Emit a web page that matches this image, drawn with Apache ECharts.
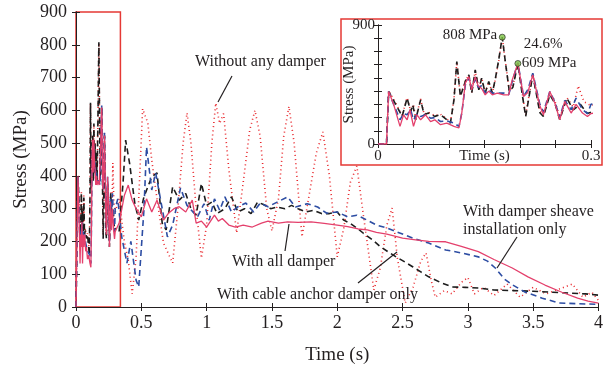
<!DOCTYPE html>
<html>
<head>
<meta charset="utf-8">
<script src="https://cdn.jsdelivr.net/npm/echarts@6/dist/echarts.min.js"></script>
<style>
html, body { margin: 0; padding: 0; background: #fff; }
#chart { width: 606px; height: 370px; }
</style>
</head>
<body>
<div id="chart"></div>
<script>
// time (s) and stress (MPa), one pair of arrays per case
var tAll = [0, 0.012, 0.015, 0.022, 0.031, 0.036, 0.041, 0.045, 0.05, 0.055, 0.06, 0.067, 0.074, 0.08, 0.088, 0.097, 0.107, 0.114, 0.118, 0.123, 0.128, 0.132, 0.137, 0.141, 0.146, 0.151, 0.156, 0.161, 0.168, 0.177, 0.184, 0.189, 0.197, 0.205, 0.211, 0.218, 0.228, 0.233, 0.242, 0.249, 0.256, 0.263, 0.272, 0.279, 0.288, 0.295, 0.3,
    0.33, 0.37, 0.4, 0.43, 0.46, 0.5, 0.54, 0.58, 0.62, 0.67, 0.71, 0.75, 0.79, 0.84, 0.89, 0.92, 0.96, 1.0, 1.06, 1.09, 1.12, 1.17, 1.22, 1.28, 1.35, 1.42, 1.47, 1.55, 1.62, 1.7, 1.8, 1.9, 2.0, 2.08, 2.16, 2.23, 2.3, 2.38, 2.5, 2.6, 2.7, 2.83, 2.95, 3.08, 3.2, 3.34, 3.46, 3.59, 3.72, 3.84, 3.92, 4.0];
var vAll = [0, 0, 397, 300, 133, 221, 183, 259, 133, 221, 183, 221, 170, 183, 146, 158, 133, 121, 234, 460, 510, 410, 510, 440, 420, 372, 400, 372, 385, 372, 372, 485, 609, 359, 390, 523, 290, 221, 397, 310, 183, 322, 234, 300, 234, 208, 230,
    256, 340, 372, 326, 300, 275, 330, 290, 326, 265, 287, 300, 306, 290, 326, 256, 262, 244, 280, 262, 270, 250, 244, 250, 244, 256, 262, 256, 260, 258, 260, 255, 250, 245, 238, 235, 228, 222, 210, 205, 200, 199, 185, 169, 145, 119, 92, 67, 45, 27, 18, 12];

var tCable = [0, 0.012, 0.015, 0.024, 0.034, 0.041, 0.046, 0.049, 0.053, 0.06, 0.065, 0.071, 0.08, 0.088, 0.097, 0.102, 0.107, 0.111, 0.116, 0.123, 0.128, 0.132, 0.137, 0.142, 0.146, 0.151, 0.156, 0.161, 0.165, 0.17, 0.175, 0.179, 0.185, 0.19, 0.197, 0.203, 0.208, 0.218, 0.228, 0.233, 0.242, 0.249, 0.256, 0.266, 0.275, 0.285, 0.295, 0.3,
    0.33, 0.36, 0.38, 0.41, 0.45, 0.48, 0.52, 0.58, 0.62, 0.66, 0.69, 0.74, 0.79, 0.84, 0.88, 0.92, 0.96, 1.0, 1.04, 1.08, 1.14, 1.19, 1.24, 1.29, 1.34, 1.39, 1.44, 1.49, 1.54, 1.6, 1.65, 1.7, 1.76, 1.82, 1.88, 1.94, 2.0, 2.05, 2.1, 2.15, 2.2, 2.27, 2.33, 2.39, 2.45, 2.52, 2.58, 2.64, 2.7, 2.79, 2.88, 2.98, 3.08, 3.2, 3.35, 3.5, 3.65, 3.8, 3.9, 4.0];
var vCable = [0, 0, 397, 309, 209, 347, 246, 297, 183, 334, 221, 234, 209, 221, 183, 158, 334, 623, 360, 473, 523, 385, 560, 410, 498, 385, 473, 385, 485, 636, 808, 636, 397, 430, 609, 380, 208, 523, 236, 208, 372, 310, 183, 347, 259, 300, 230, 240,
    230, 378, 509, 439, 317, 265, 336, 397, 409, 256, 235, 367, 326, 346, 300, 280, 377, 310, 320, 285, 300, 336, 290, 300, 285, 320, 312, 300, 305, 300, 310, 300, 290, 295, 285, 285, 290, 265, 255, 241, 225, 205, 184, 168, 153, 137, 122, 107, 92, 75, 61, 60, 58, 52, 50, 48, 45, 42, 40, 36];

var tSheave = [0, 0.012, 0.015, 0.022, 0.031, 0.036, 0.041, 0.046, 0.05, 0.056, 0.06, 0.067, 0.074, 0.08, 0.088, 0.097, 0.107, 0.114, 0.118, 0.123, 0.128, 0.132, 0.137, 0.141, 0.146, 0.151, 0.156, 0.161, 0.168, 0.177, 0.184, 0.189, 0.197, 0.205, 0.211, 0.218, 0.228, 0.233, 0.242, 0.249, 0.256, 0.263, 0.272, 0.279, 0.288, 0.295, 0.3,
    0.32, 0.35, 0.39, 0.42, 0.46, 0.48, 0.52, 0.54, 0.58, 0.61, 0.66, 0.7, 0.74, 0.8, 0.85, 0.93, 0.98, 1.02, 1.06, 1.1, 1.14, 1.19, 1.24, 1.3, 1.36, 1.41, 1.47, 1.54, 1.62, 1.68, 1.77, 1.85, 1.92, 2.0, 2.08, 2.15, 2.23, 2.3, 2.38, 2.45, 2.58, 2.7, 2.83, 2.95, 3.08, 3.15, 3.21, 3.28, 3.34, 3.44, 3.57, 3.7, 3.85, 4.0];
var vSheave = [0, 0, 397, 300, 183, 230, 221, 259, 183, 230, 208, 221, 195, 200, 170, 175, 158, 133, 234, 447, 500, 420, 490, 430, 440, 385, 410, 385, 385, 385, 372, 470, 615, 360, 410, 535, 300, 240, 397, 320, 200, 330, 260, 347, 260, 230, 300,
    330, 214, 134, 200, 82, 61, 296, 488, 357, 409, 300, 214, 250, 363, 310, 275, 315, 265, 330, 295, 336, 290, 306, 317, 290, 317, 306, 320, 336, 305, 315, 305, 286, 290, 275, 280, 265, 250, 241, 230, 210, 195, 174, 165, 153, 140, 119, 85, 68, 45, 27, 12, 10, 8];

var tNone = [0, 0.012, 0.015, 0.024, 0.034, 0.041, 0.046, 0.05, 0.053, 0.06, 0.065, 0.071, 0.08, 0.088, 0.097, 0.102, 0.107, 0.111, 0.116, 0.123, 0.128, 0.132, 0.137, 0.142, 0.146, 0.151, 0.156, 0.161, 0.165, 0.17, 0.175, 0.179, 0.185, 0.19, 0.197, 0.203, 0.208, 0.218, 0.228, 0.233, 0.242, 0.249, 0.256, 0.266, 0.275, 0.282, 0.29, 0.3,
    0.33, 0.37, 0.4, 0.43, 0.46, 0.49, 0.51, 0.55, 0.58, 0.62, 0.67, 0.71, 0.74, 0.78, 0.82, 0.85, 0.88, 0.92, 0.96, 1.0, 1.04, 1.07, 1.1, 1.13, 1.17, 1.23, 1.28, 1.33, 1.37, 1.41, 1.46, 1.5, 1.55, 1.59, 1.63, 1.67, 1.73, 1.78, 1.84, 1.89, 1.94, 2.0, 2.05, 2.1, 2.15, 2.2, 2.28, 2.33, 2.38, 2.42, 2.46, 2.52, 2.58, 2.64, 2.68, 2.72, 2.75, 2.82, 2.88, 2.95, 3.0, 3.05, 3.12, 3.2, 3.3, 3.4, 3.5, 3.6, 3.7, 3.8, 3.88, 3.95, 4.0];
var vNone = [0, 0, 400, 320, 215, 350, 250, 300, 190, 340, 225, 240, 215, 225, 190, 165, 340, 620, 365, 480, 520, 390, 555, 415, 500, 390, 470, 390, 480, 630, 805, 640, 400, 440, 610, 390, 220, 530, 250, 215, 380, 330, 200, 350, 280, 440, 320, 290,
    330, 200, 143, 40, 150, 420, 605, 561, 448, 330, 195, 160, 134, 300, 500, 592, 500, 300, 149, 250, 500, 622, 560, 590, 420, 226, 380, 540, 600, 520, 300, 232, 330, 520, 612, 500, 214, 330, 470, 534, 400, 153, 240, 380, 430, 280, 52, 120, 250, 302, 150, 12, 60, 140, 165, 80, 30, 50, 40, 75, 90, 40, 60, 35, 70, 30, 60, 40, 55, 70, 30, 45, 20];

// points marked in the inset
var peakTimes = [0.175, 0.197];
var peakValues = [808, 609];
var peakLabels = ['808 MPa', '609 MPa'];

function pairs(t, v) {
    var out = [];
    for (var i = 0; i < t.length; i++) out.push([t[i], v[i]]);
    return out;
}

var serif = '"Liberation Serif", "DejaVu Serif", serif';
var ink = '#231f20';

var chart = echarts.init(document.getElementById('chart'));

function axisX(grid, pos, max, interval, showLabel, name, z, labelSize) {
    return {
        type: 'value', gridIndex: grid, position: pos, min: 0, max: max, interval: interval, z: z,
        name: name, nameLocation: 'middle', nameMoveOverlap: false,
        nameTextStyle: { fontFamily: serif, fontSize: labelSize + 1, color: ink },
        axisLine: { show: true, lineStyle: { color: ink, width: 1 } },
        axisTick: { show: true, inside: true, length: 4, lineStyle: { color: ink } },
        axisLabel: { show: showLabel, fontFamily: serif, fontSize: labelSize, color: ink },
        splitLine: { show: false }
    };
}
function axisY(grid, pos, showLabel, name, z, labelSize) {
    return {
        type: 'value', gridIndex: grid, position: pos, min: 0, max: 900, interval: 100, z: z,
        name: name, nameLocation: 'middle', nameMoveOverlap: false,
        nameTextStyle: { fontFamily: serif, fontSize: labelSize + 1, color: ink },
        axisLine: { show: true, lineStyle: { color: ink, width: 1 } },
        axisTick: { show: true, inside: true, length: 4, lineStyle: { color: ink } },
        axisLabel: { show: showLabel, fontFamily: serif, fontSize: labelSize, color: ink },
        splitLine: { show: false }
    };
}

var xMain = axisX(0, 'bottom', 4, 0.5, true, 'Time (s)', 1, 18);
xMain.nameGap = 39; xMain.axisLabel.margin = 7;
var yMain = axisY(0, 'left', true, 'Stress (MPa)', 1, 18);
yMain.nameGap = 45; yMain.axisLabel.margin = 9;

var xIn = axisX(1, 'bottom', 0.3, 0.05, true, 'Time (s)', 61, 15);
xIn.nameGap = 5; xIn.nameTextStyle.fontSize = 15; xIn.axisLabel.margin = 5;
xIn.axisLabel.formatter = function (v) {
    if (v === 0) return '0';
    if (Math.abs(v - 0.3) < 1e-6) return '0.3';
    return '';
};
var yIn = axisY(1, 'left', true, 'Stress (MPa)', 61, 15);
yIn.nameGap = 21; yIn.nameTextStyle.fontSize = 15; yIn.axisLabel.margin = 3;
yIn.axisLabel.formatter = function (v) { return (v === 0 || v === 900) ? String(v) : ''; };

var styles = {
    none: { color: '#e8262b', width: 1.6, type: [1, 3.2] },
    cable: { color: '#1d1d1d', width: 1.6, type: [6, 4] },
    sheave: { color: '#2d4da3', width: 1.6, type: [6, 4] },
    all: { color: '#e4406c', width: 1.3, type: 'solid' }
};

function lineSeries(key, t, v, xi, yi, z) {
    return {
        type: 'line', xAxisIndex: xi, yAxisIndex: yi, data: pairs(t, v),
        showSymbol: false, symbol: 'none', z: z, silent: true, animation: false,
        lineStyle: styles[key]
    };
}

var series = [
    lineSeries('none', tNone, vNone, 0, 0, 2),
    lineSeries('cable', tCable, vCable, 0, 0, 3),
    lineSeries('sheave', tSheave, vSheave, 0, 0, 4),
    lineSeries('all', tAll, vAll, 0, 0, 5),
    lineSeries('none', tNone, vNone, 2, 2, 62),
    lineSeries('cable', tCable, vCable, 2, 2, 63),
    lineSeries('sheave', tSheave, vSheave, 2, 2, 64),
    lineSeries('all', tAll, vAll, 2, 2, 65)
];

// red frame of the zoomed window on the main chart
series[3].markArea = {
    silent: true,
    itemStyle: { color: 'rgba(0,0,0,0)', borderColor: '#e53935', borderWidth: 1.5 },
    data: [[{ coord: [0, 0] }, { coord: [0.34, 900] }]]
};

// inset: the two peaks and the lines joining them
series.push({
    type: 'scatter', xAxisIndex: 2, yAxisIndex: 2, z: 70, animation: false, silent: true,
    data: pairs(peakTimes, peakValues),
    symbolSize: 6,
    itemStyle: { color: '#7cc242', borderColor: '#1d1d1d', borderWidth: 0.8 },
    markLine: {
        silent: true, animation: false,
        lineStyle: { color: ink, width: 1, type: 'solid' },
        label: { show: false },
        data: [
            [{ coord: [peakTimes[0], peakValues[0]], symbol: 'none' }, { coord: [0.203, peakValues[0]], symbol: 'none' }],
            [{ coord: [peakTimes[1], peakValues[1]], symbol: 'none' }, { coord: [peakTimes[1], peakValues[0]], symbol: 'arrow', symbolSize: [6, 7] }]
        ]
    }
});

var txt = function (x, y, s, size, align) {
    return {
        type: 'text', x: x, y: y, z: 100,
        style: { text: s, fontFamily: serif, fontSize: size || 16, fill: ink, align: align || 'left', verticalAlign: 'middle' }
    };
};
var ln = function (x1, y1, x2, y2) {
    return { type: 'line', z: 100, shape: { x1: x1, y1: y1, x2: x2, y2: y2 }, style: { stroke: ink, lineWidth: 1.2 } };
};

chart.setOption({
    backgroundColor: '#fff',
    animation: false,
    grid: [
        { left: 76, right: 2, top: 12, bottom: 63 },
        { left: 378, top: 25, width: 213, height: 119 }
    ],
    xAxis: [
        xMain,
        axisX(0, 'top', 4, 0.5, false, '', 1, 18),
        xIn,
        axisX(1, 'top', 0.3, 0.05, false, '', 61, 15)
    ],
    yAxis: [
        yMain,
        axisY(0, 'right', false, '', 1, 18),
        yIn,
        axisY(1, 'right', false, '', 61, 15)
    ],
    series: series
});

// annotations; the peak labels follow the inset's own scale
var p808 = chart.convertToPixel({ gridIndex: 1 }, [peakTimes[0], peakValues[0]]);
var p609 = chart.convertToPixel({ gridIndex: 1 }, [peakTimes[1], peakValues[1]]);

chart.setOption({
    graphic: [
        {
            type: 'rect', z: 50, silent: true,
            shape: { x: 341, y: 19, width: 261, height: 146 },
            style: { fill: '#fff', stroke: '#e53935', lineWidth: 1.5 }
        },
        txt(195, 62, 'Without any damper'),
        ln(232, 76, 218, 102),
        txt(232, 262, 'With all damper'),
        ln(289, 224, 285, 251),
        txt(217, 295, 'With cable anchor damper only'),
        ln(358, 283, 397, 252),
        txt(463, 212, 'With damper sheave'),
        txt(463, 230, 'installation only'),
        ln(517, 237, 497, 268),
        txt(p808[0] - 5, p808[1] - 2, peakLabels[0], 15, 'right'),
        txt(p609[0] + 4, p609[1], peakLabels[1], 15, 'left'),
        txt(p609[0] + 6, 44, '24.6%', 15)
    ]
});
</script>
</body>
</html>
